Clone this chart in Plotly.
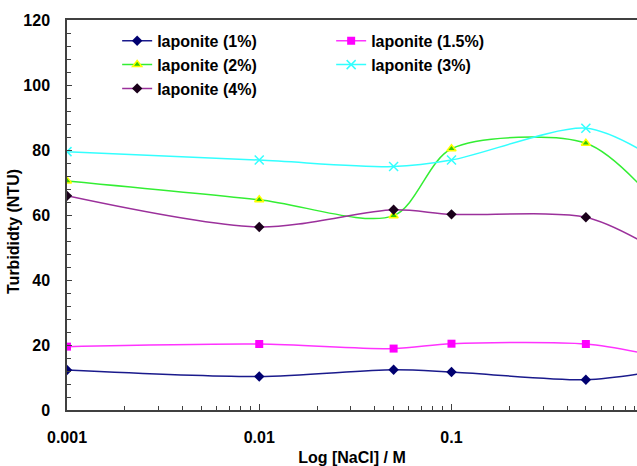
import plotly.graph_objects as go

nacl = [0.001, 0.01, 0.05, 0.1, 0.5, 1.0]
lap_1 = [12.3, 10.3, 12.4, 11.7, 9.3, 11.3]
lap_1_5 = [19.5, 20.3, 18.9, 20.4, 20.3, 17.4]
lap_2 = [70.5, 64.7, 59.8, 80.4, 82.1, 68.0]
lap_3 = [79.5, 76.9, 74.9, 76.9, 86.7, 79.5]
lap_4 = [65.9, 56.3, 61.6, 60.2, 59.3, 51.5]

series = [
    ("laponite (1%)", lap_1, "#1a1a8c", dict(symbol="diamond", size=8, color="#000070")),
    ("laponite (1.5%)", lap_1_5, "#ff33ff", dict(symbol="square", size=8, color="#ff00ff")),
    ("laponite (2%)", lap_2, "#33ee33", dict(symbol="triangle-up", size=8, color="#33cc00",
                                              line=dict(color="#ffff00", width=1.5))),
    ("laponite (3%)", lap_3, "#33ffff", dict(symbol="x-thin", size=9, color="#33ffff",
                                              line=dict(color="#33ffff", width=1.5))),
    ("laponite (4%)", lap_4, "#9b309b", dict(symbol="diamond", size=8, color="#1a001a")),
]

fig = go.Figure()
for name, vals, lc, mk in series:
    fig.add_trace(go.Scatter(
        x=nacl, y=vals, name=name, mode="lines+markers",
        line=dict(color=lc, width=1.5, shape="spline", smoothing=0.85),
        marker=mk,
    ))

font = dict(family="Liberation Sans, Arial", size=16, color="black", weight="bold")

fig.update_layout(
    width=637, height=466,
    margin=dict(l=67, r=0, t=20, b=56, autoexpand=False),
    paper_bgcolor="white", plot_bgcolor="white",
    font=font,
    showlegend=True,
    legend=dict(
        orientation="h", x=0.088, y=0.99, xanchor="left", yanchor="top",
        entrywidth=169, font=font, bgcolor="rgba(0,0,0,0)",
        traceorder="normal",
    ),
    xaxis=dict(
        type="log", range=[-3, -0.035],
        tickvals=[0.001, 0.01, 0.1], ticktext=["0.001", "0.01", "0.1"],
        ticks="inside", ticklen=6, tickcolor="#404040",
        showline=True, linecolor="#404040", linewidth=1.5, mirror=True,
        showgrid=False, zeroline=False, automargin=False,
        ticklabelstandoff=12,
        minor=dict(ticks="inside", ticklen=4, tickcolor="#404040", dtick="D1", showgrid=False),
        title=dict(text="Log [NaCl] / M", font=font, standoff=10),
        tickfont=font,
    ),
    yaxis=dict(
        range=[0, 120], dtick=20,
        ticks="inside", ticklen=5, tickcolor="#404040",
        showline=True, linecolor="#404040", linewidth=1.5, mirror=False,
        showgrid=False, zeroline=False, automargin=False,
        ticklabelstandoff=12,
        minor=dict(ticks="inside", ticklen=4, tickcolor="#404040", dtick=4, showgrid=False),
        tickfont=font,
    ),
    annotations=[dict(
        text="Turbididty (NTU)", textangle=-90, font=font, showarrow=False,
        xref="paper", yref="paper", x=-0.093, y=0.459,
        xanchor="center", yanchor="middle",
    )],
)

fig.write_html(
    "out.html",
    config={"displayModeBar": False},
    post_script="document.body.style.margin='0';document.body.style.overflow='hidden';",
)
